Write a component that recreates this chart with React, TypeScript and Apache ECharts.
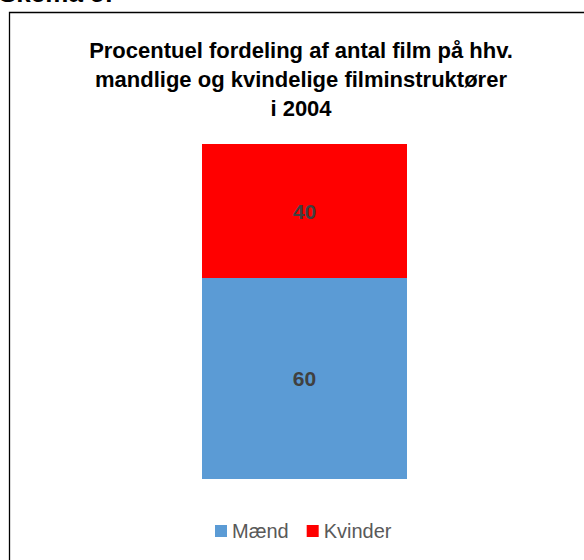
import React, { useEffect, useRef } from "react";
import * as echarts from "echarts";

const categories = ["2004"];
const seriesNames = ["Mænd", "Kvinder"];
const maendValues = [60];
const kvinderValues = [40];
const titleLines = [
  "Procentuel fordeling af antal film på hhv.",
  "mandlige og kvindelige filminstruktører",
  "i 2004",
];
const headerText = "Skema 5:";

export default function App() {
  const ref = useRef<HTMLDivElement>(null);
  useEffect(() => {
    if (!ref.current) return;
    const chart = echarts.init(ref.current, null, { renderer: "svg" });
    const labelStyle = {
      show: true,
      position: "inside",
      color: "#404040",
      fontSize: 21,
      fontWeight: "bold",
      fontFamily: "Liberation Sans, Arial, sans-serif",
    };
    chart.setOption({
      animation: false,
      backgroundColor: "#ffffff",
      graphic: [
        {
          type: "rect",
          shape: { x: 9.5, y: 12.5, width: 700, height: 700 },
          style: { fill: "none", stroke: "#000", lineWidth: 1.3 },
          silent: true,
        },
        {
          type: "text",
          x: -1,
          y: 6,
          style: {
            text: headerText,
            fill: "#000",
            font: "bold 26px 'Liberation Sans', Arial, sans-serif",
            textVerticalAlign: "bottom",
          },
        },
        {
          type: "text",
          x: 301,
          y: 36,
          style: {
            text: titleLines.join("\n"),
            fill: "#000",
            font: "bold 22px 'Liberation Sans', Arial, sans-serif",
            textAlign: "center",
            lineHeight: 29,
          },
        },
      ],
      legend: {
        data: seriesNames,
        left: 210,
        top: 516,
        itemWidth: 12,
        itemHeight: 12,
        itemGap: 18,
        icon: "rect",
        textStyle: {
          color: "#595959",
          fontSize: 20,
          fontFamily: "Liberation Sans, Arial, sans-serif",
        },
      },
      grid: { left: 202, width: 205, top: 144, bottom: 81 },
      xAxis: { type: "category", data: categories, show: false },
      yAxis: { type: "value", min: 0, max: 100, show: false },
      series: [
        {
          name: seriesNames[0],
          type: "bar",
          stack: "total",
          barWidth: "100%",
          data: maendValues,
          itemStyle: { color: "#5B9BD5" },
          label: labelStyle,
        },
        {
          name: seriesNames[1],
          type: "bar",
          stack: "total",
          barWidth: "100%",
          data: kvinderValues,
          itemStyle: { color: "#FF0000" },
          label: labelStyle,
        },
      ],
    });
    return () => chart.dispose();
  }, []);
  return (
    <div
      ref={ref}
      style={{ position: "fixed", left: 0, top: 0, width: 584, height: 560 }}
    />
  );
}
